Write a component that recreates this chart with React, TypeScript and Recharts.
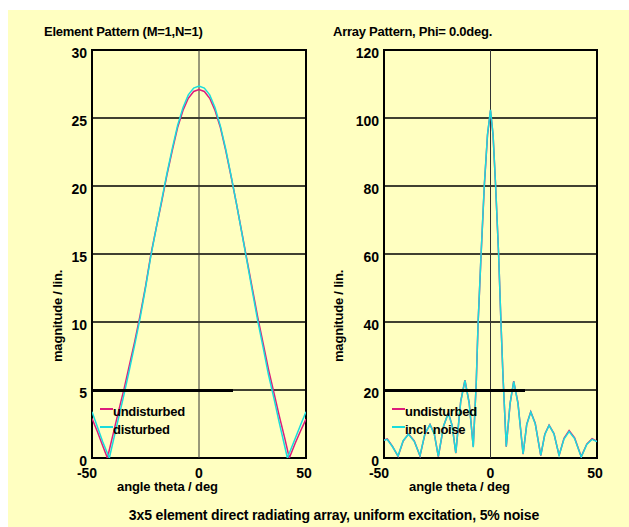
import React from 'react'
import {
  LineChart,
  Line,
  XAxis,
  YAxis,
  CartesianGrid,
  ReferenceLine,
  ReferenceArea,
  Legend,
} from 'recharts'

const bgColor = '#FFFFC1'
const undisturbedColor = '#DC1C7B'
const noiseColor = '#1ADCDC'
const font = '"Liberation Sans", Arial, Helvetica, sans-serif'

// left panel: element pattern (M=1,N=1)
const elemThetaU = [-50, -47.5, -45, -42.8, -40, -37.5, -35, -32.5, -30, -27.5, -25, -22.5, -20, -17.5, -15, -12.5, -10, -7.5, -5, -2.5, 0, 2.5, 5, 7.5, 10, 12.5, 15, 17.5, 20, 22.5, 25, 27.5, 30, 32.5, 35, 37.5, 40, 42.2, 45, 47.5, 50]
const elemUndisturbed = [2.9, 1.95, 0.9, 0, 1.85, 3.5, 5.1, 6.85, 8.6, 10.5, 12.6, 14.95, 16.9, 18.8, 20.8, 22.6, 24.3, 25.55, 26.45, 26.95, 27.1, 26.95, 26.45, 25.55, 24.3, 22.6, 20.7, 18.7, 16.6, 14.5, 12.4, 10.3, 8.4, 6.5, 4.8, 3.1, 1.5, 0, 1.1, 2.0, 2.86]
const elemThetaD = [-50, -47.5, -45, -41.9, -40, -37.5, -35, -32.5, -30, -27.5, -25, -22.5, -20, -17.5, -15, -12.5, -10, -7.5, -5, -2.5, 0, 2.5, 5, 7.5, 10, 12.5, 15, 17.5, 20, 22.5, 25, 27.5, 30, 32.5, 35, 37.5, 40, 41.3, 45, 47.5, 50]
const elemDisturbed = [3.4, 2.3, 1.2, 0, 1.3, 3.0, 4.7, 6.5, 8.35, 10.3, 12.5, 14.85, 16.9, 18.9, 20.9, 22.75, 24.45, 25.75, 26.7, 27.2, 27.35, 27.2, 26.7, 25.75, 24.4, 22.7, 20.75, 18.7, 16.55, 14.4, 12.2, 10.05, 8.1, 6.1, 4.4, 2.6, 0.9, 0, 1.45, 2.45, 3.4]
const elemTicks = [0, 5, 10, 15, 20, 25, 30]

// right panel: array pattern, phi = 0 deg
const arrTheta = [-50, -48.5, -46, -43.4, -41, -38.5, -35.8, -33.1, -30.8, -28.4, -26.4, -24.5, -22, -19.8, -18, -16.3, -14, -12, -10, -8.1, -6.7, -5.8, -4.4, -2.9, -1.4, 0, 1.2, 2.4, 3.8, 4.9, 5.85, 7.4, 9.2, 10.9, 12.9, 15.3, 17, 18.9, 21, 23.6, 25.5, 27.5, 29.8, 32.2, 34.5, 36.9, 39.5, 42.6, 45.2, 47.7, 50]
const arrUndisturbed = [5.3, 5.6, 3.4, 0.5, 5.0, 7.1, 5.0, 0.6, 7.0, 9.9, 7.2, 0.4, 9.4, 13.3, 9.6, 1.4, 16.6, 22.9, 16.2, 3.3, 22, 40, 60, 80, 95, 102.2, 95, 80, 60, 40, 24.4, 3.3, 16, 22.6, 16.2, 1.1, 9.9, 13.6, 10.2, 0.7, 7.0, 9.7, 7.2, 0.7, 5.8, 8.1, 5.9, 0.4, 4.1, 5.7, 4.9]
const arrNoise = [5.2, 5.5, 3.3, 0.6, 5.1, 7.0, 4.9, 0.7, 7.1, 9.8, 7.1, 0.5, 9.5, 13.2, 9.5, 1.5, 16.5, 22.8, 16.1, 3.2, 22.1, 40.2, 60.3, 80.4, 95.3, 102.4, 95.2, 80.2, 60.1, 40.1, 24.3, 3.4, 16.1, 22.5, 16.0, 1.2, 9.8, 13.5, 10.1, 0.8, 6.9, 9.6, 7.1, 0.8, 5.6, 7.8, 5.7, 0.3, 4.0, 5.5, 4.8]
const arrTicks = [0, 20, 40, 60, 80, 100, 120]

const angleTicks = [-50, 0, 50]
// the original plot nudges the outer tick labels slightly to the left
const angleTickShift: Record<number, number> = { [-50]: -5, 0: 0, 50: -2 }

const toRows = (angles: number[], values: number[]) =>
  angles.map((theta, i) => ({ theta, value: values[i] }))

const textStyle: React.CSSProperties = {
  fontFamily: font,
  fontWeight: 'bold',
  fontSize: 13,
  fill: '#000',
}

const tickStyle = { fill: '#000', fontSize: 14, fontWeight: 'bold', fontFamily: font }

const AngleTick = ({ x, y, payload }: any) => (
  <text
    x={x + (angleTickShift[payload.value] ?? 0)}
    y={y + 19.5}
    textAnchor='middle'
    style={{ ...tickStyle }}
  >
    {payload.value}
  </text>
)

const PatternLegend = ({ payload, order }: any) => {
  const items = [...(payload || [])].sort(
    (a: any, b: any) => order.indexOf(a.value) - order.indexOf(b.value)
  )
  return (
    <div
      style={{
        width: 141,
        height: 50,
        borderTop: '3px solid #000',
        position: 'relative',
        fontFamily: font,
        fontSize: 13,
        fontWeight: 'bold',
        color: '#000',
      }}
    >
      {items.map((entry: any, i: number) => (
        <div key={entry.value} style={{ position: 'absolute', left: 0, top: 11.5 + i * 17.5, width: 141, height: 17.5 }}>
          <span style={{ position: 'absolute', left: 8, top: 5, width: 13, height: 2, background: entry.color }} />
          <span style={{ position: 'absolute', left: 21, top: 0, lineHeight: '17.5px', whiteSpace: 'nowrap', letterSpacing: -0.3 }}>
            {entry.value}
          </span>
        </div>
      ))}
    </div>
  )
}

interface PanelProps {
  width: number
  left: number
  marginLeft: number
  marginRight: number
  yMax: number
  yTicks: number[]
  series: { name: string; color: string; rows: { theta: number; value: number }[] }[]
  title: string
  titleX: number
  yLabelX: number
  xLabelX: number
}

const Panel: React.FC<PanelProps> = ({
  width, left, marginLeft, marginRight, yMax, yTicks, series, title, titleX, yLabelX, xLabelX,
}) => (
  <div style={{ position: 'absolute', left, top: 0 }}>
    <LineChart
      width={width}
      height={517}
      margin={{ top: 40, right: marginRight, bottom: 39, left: marginLeft }}
    >
      <CartesianGrid vertical={false} stroke='#000' strokeWidth={1.5} />
      <XAxis
        type='number'
        dataKey='theta'
        domain={[-50, 50]}
        ticks={angleTicks}
        height={30}
        axisLine={false}
        tickLine={false}
        tickSize={0}
        tickMargin={0}
        tick={<AngleTick />}
        allowDataOverflow
      />
      <YAxis
        type='number'
        dataKey='value'
        domain={[0, yMax]}
        ticks={yTicks}
        width={40}
        axisLine={false}
        tickLine={false}
        tickSize={0}
        tickMargin={5}
        tick={{ ...tickStyle, dy: 3 }}
        allowDataOverflow
      />
      <ReferenceLine x={0} stroke='#333' strokeWidth={1} />
      <ReferenceArea x1={-50} x2={50} y1={0} y2={yMax} fill='none' stroke='#000' strokeWidth={2} fillOpacity={0} />
      {series.map((s) => (
        <Line
          key={s.name}
          data={s.rows}
          dataKey='value'
          name={s.name}
          type='linear'
          stroke={s.color}
          strokeWidth={1.5}
          dot={false}
          activeDot={false}
          isAnimationActive={false}
        />
      ))}
      <Legend
        layout='vertical'
        align='center'
        verticalAlign='middle'
        content={<PatternLegend order={series.map((s) => s.name)} />}
        wrapperStyle={{ left: marginLeft + 40, top: 378.5, width: 141 }}
      />
      <text x={titleX} y={25.5} style={{ ...textStyle, letterSpacing: -0.25 }}>
        {title}
      </text>
      <text transform={`translate(${yLabelX},352) rotate(-90)`} style={{ ...textStyle, letterSpacing: -0.2 }}>
        magnitude / lin.
      </text>
      <text x={xLabelX} y={481} style={{ ...textStyle, letterSpacing: -0.1 }}>
        angle theta / deg
      </text>
    </LineChart>
  </div>
)

const App: React.FC = () => (
  <div
    style={{
      position: 'fixed',
      left: 8,
      top: 10,
      width: 621,
      height: 517,
      background: bgColor,
      overflow: 'hidden',
    }}
  >
    <Panel
      width={310}
      left={0}
      marginLeft={44}
      marginRight={12}
      yMax={30}
      yTicks={elemTicks}
      series={[
        { name: 'undisturbed', color: undisturbedColor, rows: toRows(elemThetaU, elemUndisturbed) },
        { name: 'disturbed', color: noiseColor, rows: toRows(elemThetaD, elemDisturbed) },
      ]}
      title='Element Pattern (M=1,N=1)'
      titleX={36}
      yLabelX={54}
      xLabelX={109}
    />
    <Panel
      width={311}
      left={310}
      marginLeft={26}
      marginRight={32}
      yMax={120}
      yTicks={arrTicks}
      series={[
        { name: 'undisturbed', color: undisturbedColor, rows: toRows(arrTheta, arrUndisturbed) },
        { name: 'incl. noise', color: noiseColor, rows: toRows(arrTheta, arrNoise) },
      ]}
      title='Array Pattern, Phi= 0.0deg.'
      titleX={15}
      yLabelX={25}
      xLabelX={91}
    />
    <svg width={621} height={517} style={{ position: 'absolute', left: 0, top: 0, pointerEvents: 'none' }}>
      <text x={326} y={510} textAnchor='middle' style={{ ...textStyle, fontSize: 14, letterSpacing: -0.15 }}>
        3x5 element direct radiating array, uniform excitation, 5% noise
      </text>
    </svg>
  </div>
)

export default App
